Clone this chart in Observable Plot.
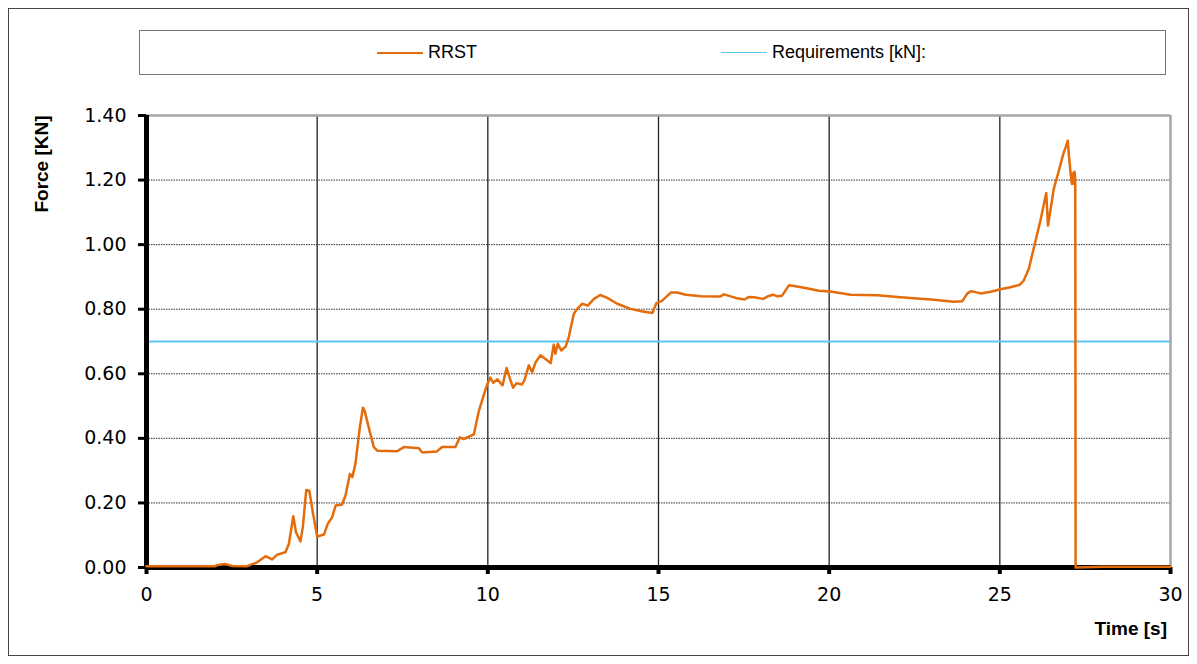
<!DOCTYPE html>
<html><head><meta charset="utf-8">
<script src="https://cdn.jsdelivr.net/npm/d3@7"></script>
<script src="https://cdn.jsdelivr.net/npm/@observablehq/plot@0.6"></script>
<style>
body{margin:0;background:#fff;}
#wrap{position:relative;width:1197px;height:664px;overflow:hidden;background:#fff;}
#frame{position:absolute;left:8px;top:8px;width:1181px;height:648px;border:1px solid #444;box-sizing:border-box;pointer-events:none;}
#legend{position:absolute;left:139px;top:30px;width:1027px;height:45px;border:1px solid #777;box-sizing:border-box;font-family:Arial,"Liberation Sans",sans-serif;font-size:18px;color:#000;background:#fff;}
.item{position:absolute;top:0;height:43px;display:flex;align-items:center;white-space:nowrap;}
.sw{display:inline-block;width:46px;height:0;border-top-style:solid;margin-right:5px;}
.atitle{position:absolute;font-family:Arial,"Liberation Sans",sans-serif;font-weight:bold;font-size:19px;line-height:19px;white-space:nowrap;color:#000;}
#plot{position:absolute;left:0;top:0;}
</style></head>
<body>
<div id="wrap">
  <div id="plot"></div>
  <div id="frame"></div>
  <div id="legend"></div>
  <div class="atitle" id="ylab"></div>
  <div class="atitle" id="xlab"></div>
</div>
<script>
// ---- data ----
const seriesName = "RRST";
const requirementName = "Requirements [kN]:";
const requirement = 0.70;
const xTitle = "Time [s]";
const yTitle = "Force [KN]";
const xTicks = [0, 5, 10, 15, 20, 25, 30];
const yTicks = [0, 0.2, 0.4, 0.6, 0.8, 1.0, 1.2, 1.4];
const time = [0, 1.0, 2.0, 2.1, 2.3, 2.5, 2.95, 3.24, 3.49, 3.68, 3.83, 4.07, 4.17, 4.30, 4.38, 4.51, 4.58, 4.68, 4.77, 4.88, 5.0, 5.2, 5.31, 5.44, 5.54, 5.73, 5.83, 5.96, 6.03, 6.12, 6.25, 6.34, 6.39, 6.51, 6.66, 6.76, 7.34, 7.54, 7.98, 8.08, 8.50, 8.66, 9.05, 9.18, 9.30, 9.59, 9.74, 9.98, 10.07, 10.16, 10.28, 10.43, 10.55, 10.65, 10.74, 10.84, 11.0, 11.07, 11.2, 11.3, 11.4, 11.54, 11.69, 11.84, 11.93, 11.98, 12.05, 12.15, 12.28, 12.37, 12.52, 12.62, 12.77, 12.93, 13.11, 13.29, 13.5, 13.79, 14.18, 14.5, 14.82, 14.94, 15.09, 15.37, 15.55, 15.80, 16.25, 16.80, 16.92, 17.26, 17.52, 17.65, 17.8, 18.07, 18.23, 18.36, 18.48, 18.62, 18.82, 18.97, 19.3, 19.7, 20.04, 20.63, 21.41, 22.09, 23.07, 23.65, 23.90, 24.05, 24.16, 24.44, 24.73, 25.02, 25.31, 25.59, 25.70, 25.85, 26.0, 26.19, 26.36, 26.41, 26.49, 26.58, 26.73, 26.86, 26.93, 26.99, 27.02, 27.07, 27.11, 27.14, 27.17, 27.19, 27.21, 27.22, 28.0, 29.0, 30.0];
const force = [0.004, 0.004, 0.004, 0.008, 0.011, 0.005, 0.004, 0.016, 0.035, 0.025, 0.040, 0.047, 0.073, 0.159, 0.109, 0.081, 0.125, 0.240, 0.238, 0.166, 0.096, 0.102, 0.135, 0.156, 0.192, 0.195, 0.223, 0.290, 0.280, 0.321, 0.434, 0.495, 0.486, 0.434, 0.373, 0.362, 0.360, 0.373, 0.369, 0.356, 0.359, 0.373, 0.373, 0.403, 0.398, 0.412, 0.486, 0.567, 0.588, 0.572, 0.583, 0.564, 0.618, 0.584, 0.557, 0.571, 0.567, 0.579, 0.626, 0.605, 0.636, 0.657, 0.646, 0.633, 0.690, 0.662, 0.693, 0.672, 0.684, 0.713, 0.786, 0.801, 0.817, 0.811, 0.832, 0.844, 0.835, 0.817, 0.801, 0.794, 0.788, 0.819, 0.825, 0.852, 0.852, 0.845, 0.840, 0.839, 0.846, 0.835, 0.830, 0.838, 0.837, 0.832, 0.841, 0.845, 0.840, 0.842, 0.874, 0.872, 0.866, 0.857, 0.855, 0.845, 0.843, 0.837, 0.829, 0.823, 0.825, 0.849, 0.856, 0.849, 0.854, 0.862, 0.868, 0.876, 0.889, 0.925, 0.992, 1.075, 1.160, 1.059, 1.111, 1.173, 1.229, 1.281, 1.302, 1.322, 1.281, 1.224, 1.188, 1.221, 1.188, 1.226, 1.200, 0.000, 0.002, 0.002, 0.002];

const data = time.map((t, i) => ({t, v: force[i]}));

const orange = "#e46c0a";
const cyan = "#5cc8f2";

const plot = Plot.plot({
  width: 1197, height: 664,
  marginLeft: 146, marginRight: 27, marginTop: 115, marginBottom: 97,
  x: {domain: [0, 30]},
  y: {domain: [0, 1.4]},
  style: {fontFamily: "'DejaVu Sans', Verdana, sans-serif", fontSize: "19px", color: "#000", background: "transparent", overflow: "visible"},
  marks: [
    Plot.gridY(yTicks.slice(1, -1), {stroke: "#333", strokeOpacity: 1, strokeWidth: 1, strokeDasharray: "1.5,1"}),
    Plot.gridX(xTicks.slice(1, -1), {stroke: "#222", strokeOpacity: 1, strokeWidth: 1.3}),
    Plot.ruleY([yTicks[yTicks.length - 1]], {stroke: "#a6a6a6", strokeWidth: 2.5}),
    Plot.ruleX([xTicks[xTicks.length - 1]], {stroke: "#a6a6a6", strokeWidth: 2.5}),
    Plot.ruleY([requirement], {stroke: cyan, strokeWidth: 2}),
    Plot.axisX({ticks: xTicks, tickSize: 7, tickPadding: 13, strokeWidth: 4, label: null, tickFormat: d => String(d)}),
    Plot.axisY({ticks: yTicks, tickSize: 8, tickPadding: 12, strokeWidth: 3, label: null, tickFormat: d3.format(".2f")}),
    Plot.ruleX([0], {stroke: "#000", strokeWidth: 5}),
    Plot.ruleY([0], {stroke: "#000", strokeWidth: 5}),
    Plot.line(data, {x: "t", y: "v", stroke: orange, strokeWidth: 2.5})
  ]
});
document.getElementById("plot").appendChild(plot);

// legend
const legend = document.getElementById("legend");
[[seriesName, orange, 237, 2.5], [requirementName, cyan, 581, 1.5]].forEach(([name, color, left, w]) => {
  const it = document.createElement("div");
  it.className = "item";
  it.style.left = left + "px";
  const sw = document.createElement("span");
  sw.className = "sw";
  sw.style.borderTopColor = color;
  sw.style.borderTopWidth = w + "px";
  it.appendChild(sw);
  it.appendChild(document.createTextNode(name));
  legend.appendChild(it);
});

// axis titles
const ylab = document.getElementById("ylab");
ylab.textContent = yTitle;
ylab.style.left = "41px"; ylab.style.top = "164px";
ylab.style.transform = "translate(-50%,-50%) rotate(-90deg)";
const xlab = document.getElementById("xlab");
xlab.textContent = xTitle;
xlab.style.right = "30px"; xlab.style.top = "619px";
</script>
</body></html>
